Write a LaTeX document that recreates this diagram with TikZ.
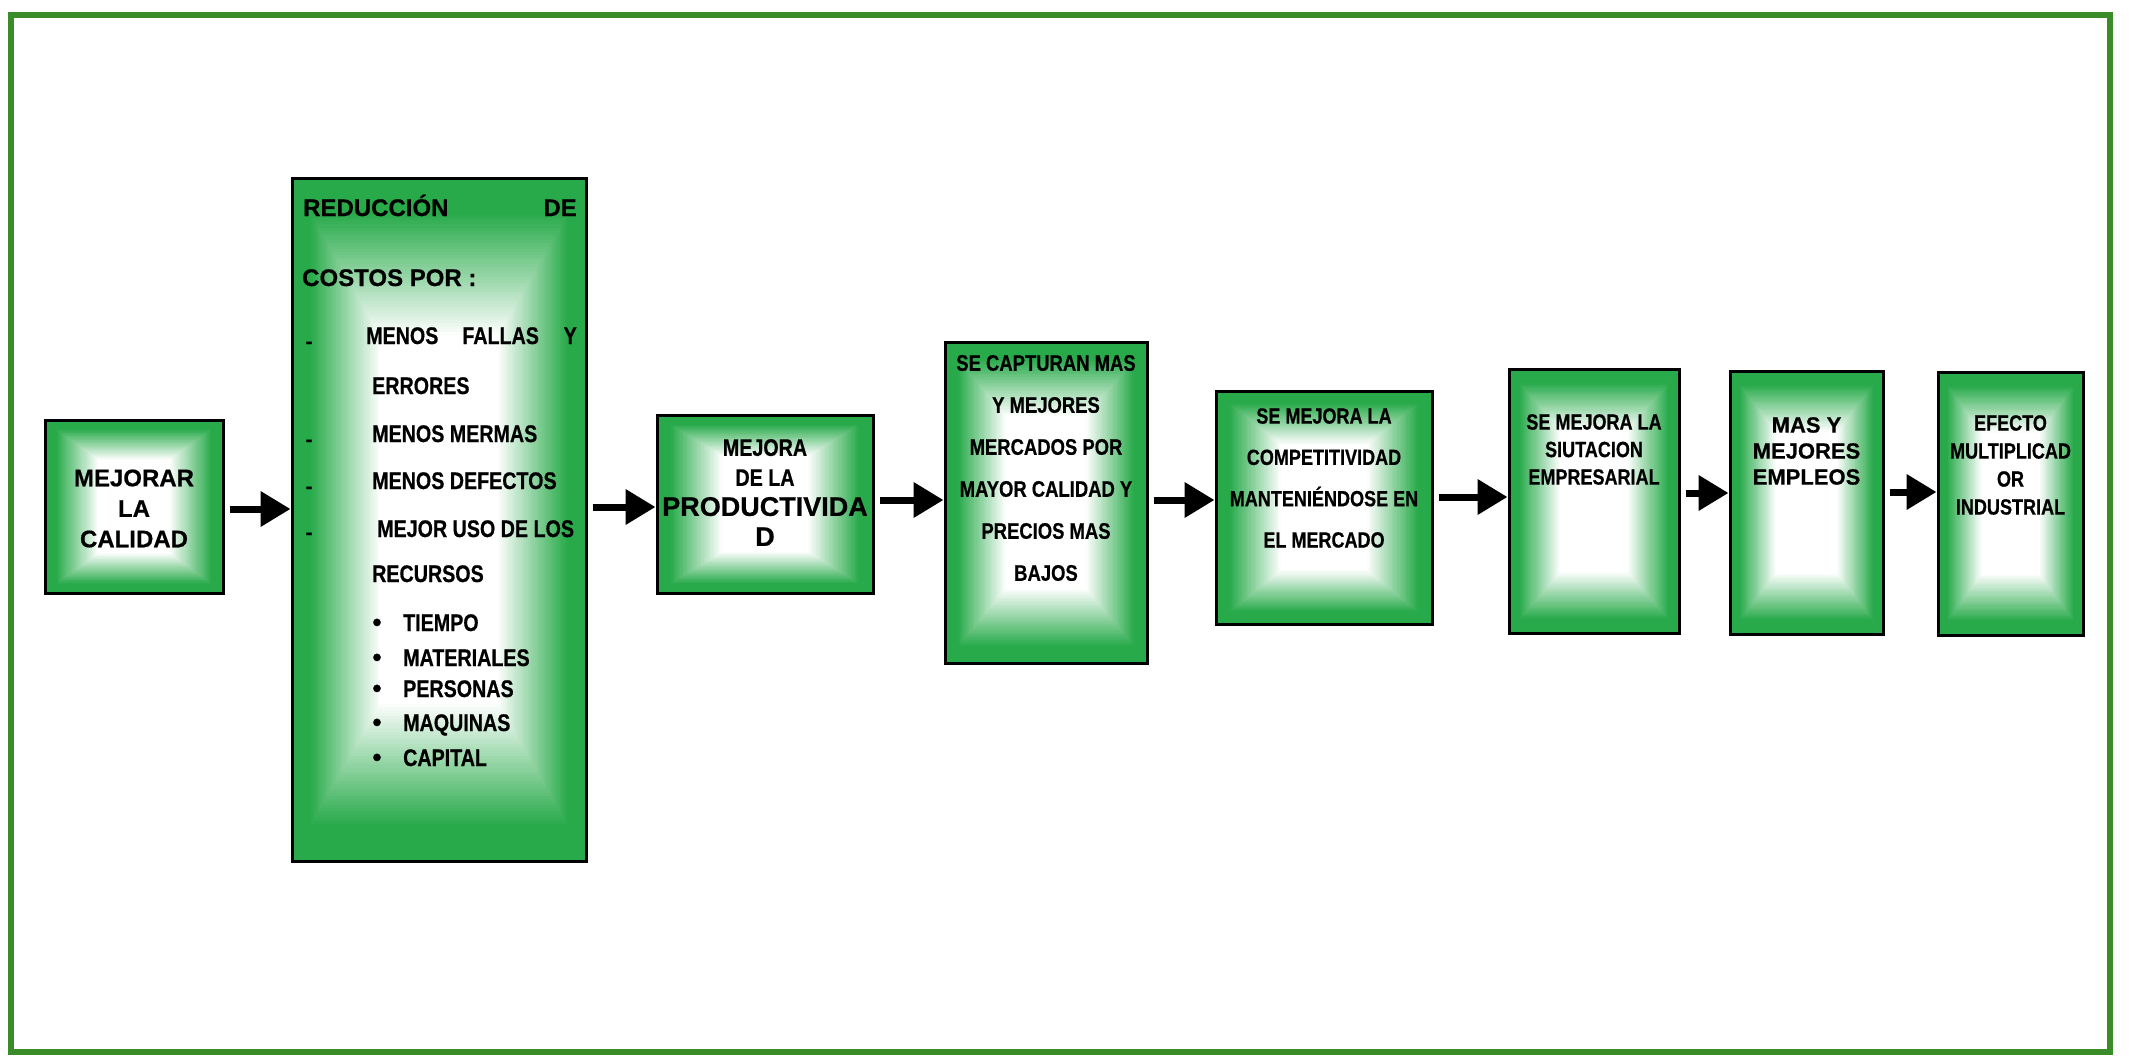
\documentclass[tikz,border=0pt]{standalone}
\usepackage{fontspec}
\setmainfont{Liberation Sans}[BoldFeatures={FakeBold=0.6}]
\newfontfamily\narrowf{Liberation Sans}[FakeStretch=0.82, BoldFeatures={FakeBold=0.6}]
\usetikzlibrary{arrows.meta,calc}
\definecolor{boxgreen}{RGB}{40,170,74}
\definecolor{framegreen}{RGB}{58,140,40}
\newcommand\fN[2]{\normalfont\fontsize{#1}{#2}\selectfont\bfseries}
\newcommand\fC[2]{\narrowf\fontsize{#1}{#2}\selectfont\bfseries}
\tikzset{
  glowbox/.style={draw=black, line width=3pt, fill=boxgreen, inner sep=0pt,
    path picture={
      \foreach \i in {0,...,40}{
        \pgfmathsetmacro{\gx}{0.06+\i*0.006}
        \pgfmathsetmacro{\gy}{0.05+\i*0.0045}
        \pgfmathsetmacro{\glowc}{100-\i*100/40}
        \fill[boxgreen!\glowc!white]
          let \p1=(path picture bounding box.south west),
              \p2=(path picture bounding box.north east) in
          ({\x1+\gx*(\x2-\x1)},{\y1+\gy*(\y2-\y1)}) rectangle
          ({\x2-\gx*(\x2-\x1)},{\y2-\gy*(\y2-\y1)});
      }
    }},
  lbl/.style={inner sep=0pt, text=black},
  arr/.style={line width=7pt, -{Triangle[length=30pt,width=34pt]}, shorten <=5pt},
  outerframe/.style={draw=framegreen, line width=6pt},
}
\begin{document}
\begin{tikzpicture}[x=1pt,y=-1pt]
\useasboundingbox (0,0) rectangle (2129,1057);
\fill[white] (0,0) rectangle (2129,1057);
\draw[outerframe] (11,15) rectangle (2110,1052);

% boxes
\node[glowbox, minimum width=178pt, minimum height=173pt] (b1) at (134,506.5) {};
\node[glowbox, minimum width=294pt, minimum height=683pt] (b2) at (439,519.5) {};
\node[glowbox, minimum width=216pt, minimum height=178pt] (b3) at (765,504) {};
\node[glowbox, minimum width=202pt, minimum height=321pt] (b4) at (1046,502.5) {};
\node[glowbox, minimum width=216pt, minimum height=233pt] (b5) at (1324,507.5) {};
\node[glowbox, minimum width=170pt, minimum height=264pt] (b6) at (1594,501) {};
\node[glowbox, minimum width=153pt, minimum height=263pt] (b7) at (1806.5,502.5) {};
\node[glowbox, minimum width=145pt, minimum height=263pt] (b8) at (2010.5,503.5) {};

% texts
\node[lbl, align=center, font=\fN{24}{30.5}] (t1) at (134,508.5) {MEJORAR\\LA\\CALIDAD};
\node[lbl, align=center, font=\fC{24}{30}] (t3) at (765,492.5)
  {MEJORA\\DE LA\\{\fN{27}{31}PRODUCTIVIDA}\\{\fN{27}{31}D}};
\node[lbl, align=center, font=\fC{22.5}{42}] (t4) at (1046,468)
  {SE CAPTURAN MAS\\Y MEJORES\\MERCADOS POR\\MAYOR CALIDAD Y\\PRECIOS MAS\\BAJOS};
\node[lbl, align=center, font=\fC{22}{41.3}] (t5) at (1324,478)
  {SE MEJORA LA\\COMPETITIVIDAD\\MANTENIÉNDOSE EN\\EL MERCADO};
\node[lbl, align=center, font=\fC{22}{27.5}] (t6) at (1594,449.5)
  {SE MEJORA LA\\SIUTACION\\EMPRESARIAL};
\node[lbl, align=center, font=\fN{22}{26}] (t7) at (1806.5,451)
  {MAS Y\\MEJORES\\EMPLEOS};
\node[lbl, align=center, font=\fC{22}{28}] (t8) at (2010.5,465)
  {EFECTO\\MULTIPLICAD\\OR\\INDUSTRIAL};

% big box text
\node[lbl, anchor=base west, font=\fN{24}{29}] (r1) at (303,216) {REDUCCIÓN};
\node[lbl, anchor=base east, font=\fN{24}{29}] (r2) at (577,216) {DE};
\node[lbl, anchor=base west, font=\fN{24}{29}] (r3) at (302,286) {COSTOS POR :};
\node[lbl, anchor=base, font=\fN{20}{20}] (d1) at (309,348) {-};
\node[lbl, anchor=base west, font=\fC{24}{29}] (r4) at (366,344) {MENOS\hspace{24pt}FALLAS};
\node[lbl, anchor=base east, font=\fC{24}{29}] (r5) at (577,344) {Y};
\node[lbl, anchor=base west, font=\fC{24}{29}] (r6) at (372,394) {ERRORES};
\node[lbl, anchor=base, font=\fN{20}{20}] (d2) at (309,446) {-};
\node[lbl, anchor=base west, font=\fC{24}{29}] (r7) at (372,442) {MENOS MERMAS};
\node[lbl, anchor=base, font=\fN{20}{20}] (d3) at (309,493) {-};
\node[lbl, anchor=base west, font=\fC{24}{29}] (r8) at (372,489) {MENOS DEFECTOS};
\node[lbl, anchor=base, font=\fN{20}{20}] (d4) at (309,539) {-};
\node[lbl, anchor=base west, font=\fC{24}{29}] (r9) at (377,537) {MEJOR USO DE LOS};
\node[lbl, anchor=base west, font=\fC{24}{29}] (r10) at (372,582) {RECURSOS};
\node[lbl, anchor=base, font=\fN{26}{29}] (p1) at (377,631) {•};
\node[lbl, anchor=base west, font=\fC{24}{29}] (s1) at (403,631) {TIEMPO};
\node[lbl, anchor=base, font=\fN{26}{29}] (p2) at (377,666) {•};
\node[lbl, anchor=base west, font=\fC{24}{29}] (s2) at (403,666) {MATERIALES};
\node[lbl, anchor=base, font=\fN{26}{29}] (p3) at (377,697) {•};
\node[lbl, anchor=base west, font=\fC{24}{29}] (s3) at (403,697) {PERSONAS};
\node[lbl, anchor=base, font=\fN{26}{29}] (p4) at (377,731) {•};
\node[lbl, anchor=base west, font=\fC{24}{29}] (s4) at (403,731) {MAQUINAS};
\node[lbl, anchor=base, font=\fN{26}{29}] (p5) at (377,766) {•};
\node[lbl, anchor=base west, font=\fC{24}{29}] (s5) at (403,766) {CAPITAL};

% arrows
\coordinate (y1) at (0,509);
\coordinate (y2) at (0,507);
\coordinate (y3) at (0,500);
\coordinate (y4) at (0,500);
\coordinate (y5) at (0,497);
\coordinate (y6) at (0,493);
\coordinate (y7) at (0,492);
\draw[arr] (b1.east |- y1) -- (b2.west |- y1);
\draw[arr] (b2.east |- y2) -- (b3.west |- y2);
\draw[arr] (b3.east |- y3) -- (b4.west |- y3);
\draw[arr] (b4.east |- y4) -- (b5.west |- y4);
\draw[arr] (b5.east |- y5) -- (b6.west |- y5);
\draw[arr] (b6.east |- y6) -- (b7.west |- y6);
\draw[arr] (b7.east |- y7) -- (b8.west |- y7);
\end{tikzpicture}
\end{document}
